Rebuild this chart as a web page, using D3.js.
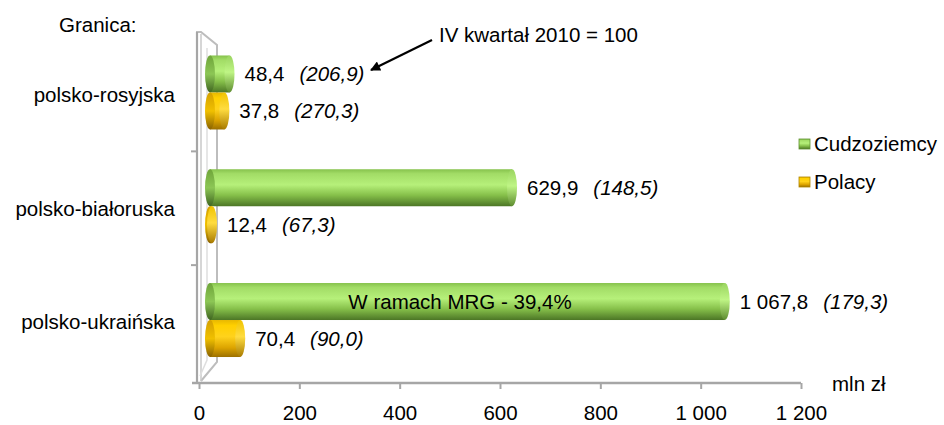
<!DOCTYPE html>
<html>
<head>
<meta charset="utf-8">
<script src="https://cdn.jsdelivr.net/npm/d3@7"></script>
<style>
  html, body { margin: 0; padding: 0; background: #fff; }
  svg { display: block; }
  text { font-family: "Liberation Sans", Arial, sans-serif; fill: #000; }
</style>
</head>
<body>
<svg id="chart" width="944" height="425"></svg>
<script>
// ---- data ----
const categories = ["polsko-rosyjska", "polsko-białoruska", "polsko-ukraińska"];
const seriesNames = ["Cudzoziemcy", "Polacy"];
const cudzoziemcy = [48.4, 629.9, 1067.8];
const polacy = [37.8, 12.4, 70.4];
const indexCudzoziemcy = [206.9, 148.5, 179.3];
const indexPolacy = [270.3, 67.3, 90.0];
const xTicks = [0, 200, 400, 600, 800, 1000, 1200];
const categoryTitle = "Granica:";
const unitLabel = "mln zł";
const annotationText = "IV kwartał 2010 = 100";
const insideLabel = "W ramach MRG - 39,4%";

const FS = 20.5;
const svg = d3.select("#chart");
const pl = d3.formatLocale({ decimal: ",", thousands: "\u00a0", grouping: [3], currency: ["", " zł"] });
const fmtVal = pl.format(",.1f");
const fmtTick = pl.format(",");

const defs = svg.append("defs");
function cylGrad(id, stops) {
  const g = defs.append("linearGradient").attr("id", id)
    .attr("x1", 0).attr("y1", 0).attr("x2", 0).attr("y2", 1);
  stops.forEach(([o, c]) => g.append("stop").attr("offset", o).attr("stop-color", c));
}
cylGrad("gGreen", [[0, "#86c24c"], [0.12, "#a2dc66"], [0.42, "#b6f07a"], [0.7, "#86c04a"], [1, "#4c7626"]]);
cylGrad("gGreenCapL", [[0, "#6fa53a"], [0.5, "#8cc655"], [1, "#3f6520"]]);
cylGrad("gGreenCapR", [[0, "#9ad460"], [0.45, "#bff585"], [1, "#5e8c30"]]);
cylGrad("gYellow", [[0, "#e8b800"], [0.15, "#ffd000"], [0.45, "#ffd21c"], [0.75, "#dca400"], [1, "#9c7000"]]);
cylGrad("gYellowCapL", [[0, "#d4a000"], [0.5, "#f0c000"], [1, "#8a6200"]]);
cylGrad("gYellowCapR", [[0, "#f0c400"], [0.45, "#ffdc40"], [1, "#a87a00"]]);
const fills = {
  Cudzoziemcy: ["gGreen", "gGreenCapL", "gGreenCapR"],
  Polacy: ["gYellow", "gYellowCapL", "gYellowCapR"]
};

// arrow marker
defs.append("marker").attr("id", "arrow").attr("viewBox", "0 0 10 10")
  .attr("refX", 9).attr("refY", 5).attr("markerWidth", 12).attr("markerHeight", 10)
  .attr("markerUnits", "userSpaceOnUse").attr("orient", "auto")
  .append("path").attr("d", "M0,0 L10,5 L0,10 z").attr("fill", "#000");

// ---- scales ----
const xAxisScale = d3.scaleLinear().domain([0, 1200]).range([199, 801]);
const xBar = d3.scaleLinear().domain([0, 1200]).range([211, 794]);
const barLeft = 205;
const y = d3.scaleBand().domain(categories).range([35.6, 376.9]).paddingInner(0).paddingOuter(0);
const groupH = 74;
const ySub = d3.scaleBand().domain(seriesNames).range([0, groupH]);
const groupOff = (y.bandwidth() - groupH) / 2;

// ---- 3D wall ----
const wall = svg.append("g").attr("fill", "none");
const wallTop = 32, axisY = 383;
wall.append("path")
  .attr("d", `M196,${wallTop} L201,${wallTop} L217,45 L217,362 L201,381`)
  .attr("stroke", "#bdbdbd").attr("stroke-width", 2);
wall.append("path")
  .attr("d", `M201,${wallTop + 2} L201,381`)
  .attr("stroke", "#c8c8c8").attr("stroke-width", 1.5);
wall.append("path")
  .attr("d", `M207,48 L207,360 L200,376`)
  .attr("stroke", "#dedede").attr("stroke-width", 1.5);
wall.append("line").attr("x1", 197).attr("x2", 197).attr("y1", wallTop).attr("y2", axisY + 1)
  .attr("stroke", "#a6a6a6").attr("stroke-width", 2.2);
// category tick marks
categories.slice(1).forEach(c => {
  wall.append("line").attr("x1", 191).attr("x2", 198)
    .attr("y1", y(c) + 2).attr("y2", y(c) + 2)
    .attr("stroke", "#a6a6a6").attr("stroke-width", 2);
});

// ---- x axis ----
const xAxis = d3.axisBottom(xAxisScale).tickValues(xTicks).tickSize(6).tickPadding(16)
  .tickFormat(d => fmtTick(d));
const ax = svg.append("g").attr("transform", `translate(0,${axisY})`).call(xAxis);
ax.select(".domain").attr("d", `M192,0H${xAxisScale(1200)}`).attr("stroke", "#a6a6a6").attr("stroke-width", 2.5);
ax.selectAll(".tick line").attr("stroke", "#a6a6a6").attr("stroke-width", 2);
ax.selectAll(".tick text").attr("font-size", FS).attr("font-family", "Liberation Sans, Arial, sans-serif").attr("fill", "#000");

svg.append("text").attr("x", 832).attr("y", 391).attr("font-size", FS).text(unitLabel);

// ---- bars ----
const rows = [];
categories.forEach((c, i) => {
  rows.push({ cat: c, s: "Cudzoziemcy", v: cudzoziemcy[i], idx: indexCudzoziemcy[i] });
  rows.push({ cat: c, s: "Polacy", v: polacy[i], idx: indexPolacy[i] });
});
const rx = 5;
const bars = svg.append("g");
rows.forEach(d => {
  const top = y(d.cat) + groupOff + ySub(d.s);
  const h = ySub.bandwidth();
  const right = xBar(d.v);
  const [fb, fl, fr] = fills[d.s];
  const g = bars.append("g");
  const bodyL = barLeft + rx, bodyR = Math.max(right - rx, bodyL);
  g.append("rect").attr("x", bodyL).attr("y", top).attr("width", bodyR - bodyL).attr("height", h)
    .attr("fill", `url(#${fb})`);
  g.append("ellipse").attr("cx", bodyL).attr("cy", top + h / 2).attr("rx", rx).attr("ry", h / 2)
    .attr("fill", `url(#${fl})`);
  g.append("ellipse").attr("cx", bodyR).attr("cy", top + h / 2).attr("rx", rx).attr("ry", h / 2)
    .attr("fill", `url(#${fr})`);
  // value label
  const t = svg.append("text").attr("x", right + 10).attr("y", top + h / 2)
    .attr("dy", "0.36em").attr("font-size", FS);
  t.append("tspan").text(fmtVal(d.v));
  t.append("tspan").attr("dx", 15).attr("font-style", "italic").text(`(${fmtVal(d.idx)})`);
  d.top = top; d.h = h;
});

// inside label on the largest bar
const big = rows.find(d => d.cat === "polsko-ukraińska" && d.s === "Cudzoziemcy");
svg.append("text").attr("x", 460).attr("y", big.top + big.h / 2).attr("dy", "0.36em")
  .attr("text-anchor", "middle").attr("font-size", FS).attr("fill", "#111").text(insideLabel);

// ---- category labels ----
categories.forEach(c => {
  svg.append("text").attr("x", 175).attr("y", y(c) + y.bandwidth() / 2 + 2).attr("dy", "0.36em")
    .attr("text-anchor", "end").attr("font-size", FS).text(c);
});
svg.append("text").attr("x", 59).attr("y", 32).attr("font-size", FS).text(categoryTitle);

// ---- annotation ----
svg.append("text").attr("x", 439).attr("y", 42).attr("font-size", FS).text(annotationText);
svg.append("line").attr("x1", 432).attr("y1", 40).attr("x2", 371).attr("y2", 70)
  .attr("stroke", "#000").attr("stroke-width", 2.2).attr("marker-end", "url(#arrow)");

// ---- legend ----
const legend = svg.append("g");
seriesNames.forEach((s, i) => {
  const base = 151 + i * 38;
  legend.append("rect").attr("x", 799).attr("y", base - 12).attr("width", 11).attr("height", 10)
    .attr("fill", `url(#${fills[s][0]})`).attr("stroke", s === "Polacy" ? "#b08400" : "#5e8f30").attr("stroke-width", 0.8);
  legend.append("text").attr("x", 814).attr("y", base).attr("font-size", FS).text(s);
});
</script>
</body>
</html>
